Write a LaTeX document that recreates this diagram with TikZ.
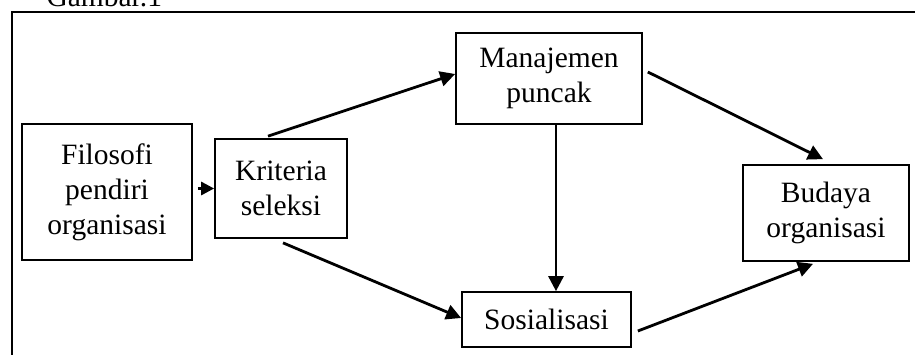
\documentclass[tikz,border=0pt]{standalone}
\usepackage{fontspec}
\setmainfont{Liberation Serif}
\usetikzlibrary{arrows.meta}
\begin{document}
\begin{tikzpicture}[x=1pt,y=-1pt,
  box/.style={draw, line width=1.7pt, rectangle, inner sep=0pt, align=center,
    font=\fontsize{29.5}{35}\selectfont},
  arr/.style={line width=2.8pt, -{Triangle[length=15pt,width=15pt]}},
  frame/.style={line width=1.9pt}]
\useasboundingbox (0,0) rectangle (915,354);
\node[anchor=base west, font=\fontsize{29.5}{35}\selectfont] (g) at (43,6) {Gambar.1};
\coordinate (ftl) at (12,12);
\coordinate (ftr) at (916,12);
\coordinate (fbl) at (12,356);
\draw[frame] (ftr) -- (ftl) -- (fbl);
\node[box, minimum width=170pt, minimum height=136pt] (f) at (107,192) {Filosofi\\pendiri\\organisasi};
\node[box, minimum width=132pt, minimum height=99pt] (k) at (281,188.5) {Kriteria\\seleksi};
\node[box, minimum width=186pt, minimum height=91pt] (m) at (549,78.5) {Manajemen\\puncak};
\node[box, minimum width=169pt, minimum height=55pt] (s) at (546.5,319.5) {Sosialisasi};
\node[box, minimum width=166pt, minimum height=96pt] (b) at (826,213) {Budaya\\organisasi};
\draw[arr,-{Triangle[length=13pt,width=13pt]}] ([xshift=5pt]f.east |- k.west) -- (k.west);
\draw[arr] ([xshift=-13pt,yshift=2pt]k.north) -- ([yshift=4.5pt]m.west);
\draw[arr] ([xshift=2pt,yshift=-4pt]k.south) -- ([yshift=1.5pt]s.west);
\draw[arr] ([xshift=7pt]m.south) -- ([xshift=7pt]m.south |- s.north);
\draw[arr] ([xshift=5pt,yshift=6.5pt]m.east) -- ([xshift=-3pt,yshift=5pt]b.north);
\draw[arr] ([xshift=6pt,yshift=-11.5pt]s.east) -- ([xshift=-13pt,yshift=-2pt]b.south);
\end{tikzpicture}
\end{document}
